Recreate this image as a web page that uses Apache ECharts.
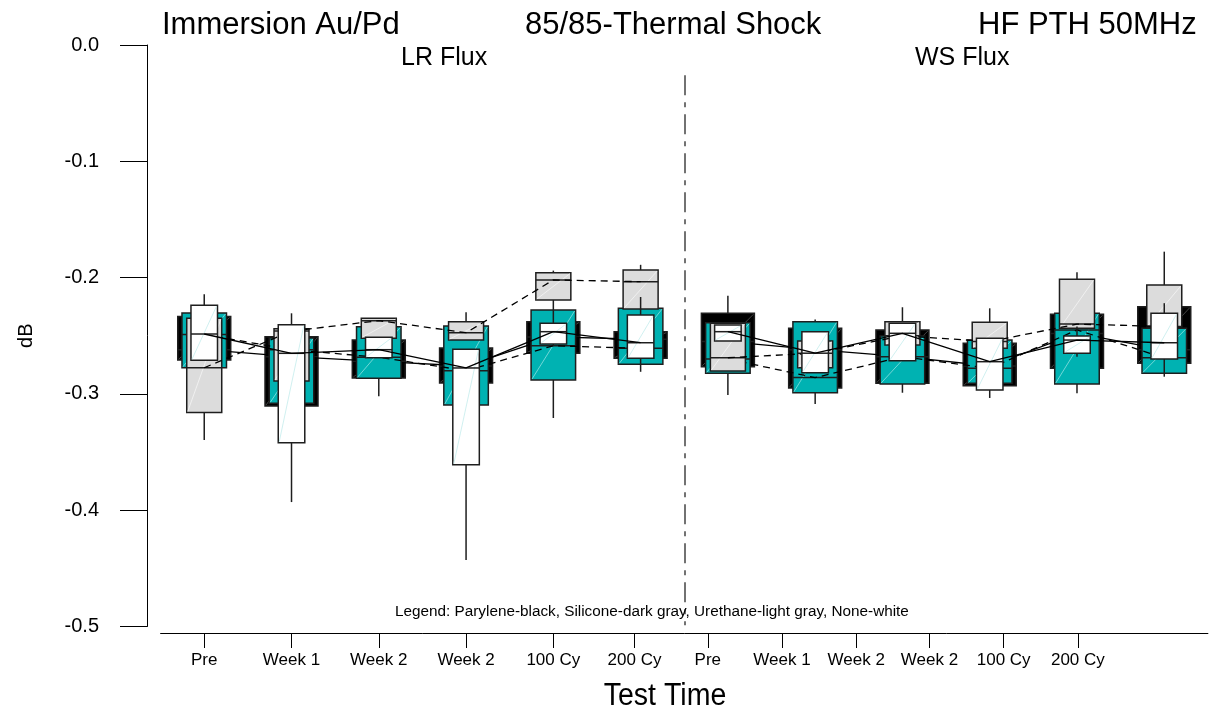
<!DOCTYPE html>
<html>
<head>
<meta charset="utf-8">
<script src="https://cdn.jsdelivr.net/npm/echarts@6/dist/echarts.min.js"></script>
<style>html,body{margin:0;padding:0;background:#fff}#c{width:1217px;height:717px}</style>
</head>
<body>
<div id="c"></div>
<script>
// ---- data ----
const categories = ['Pre','Week 1','Week 2','Week 2','100 Cy','200 Cy','Pre','Week 1','Week 2','Week 2','100 Cy','200 Cy'];
// tick label positions along the box axis (as drawn in the reference)
const tickPositions = [0, 1, 2, 3, 4, 4.93, 5.77, 6.62, 7.47, 8.31, 9.16, 10.01];

// Parylene (black)
const paryleneWhiskerLow  = [-0.2709,-0.3104,-0.3020,-0.2906,-0.2651,-0.2694,-0.3010,-0.2949,-0.2909,-0.2930,-0.2780,-0.2737];
const paryleneBoxLow      = [-0.2709,-0.3104,-0.2863,-0.2906,-0.2651,-0.2694,-0.2766,-0.2949,-0.2909,-0.2930,-0.2780,-0.2737];
const paryleneMedian      = [-0.2620,-0.2680,-0.2720,-0.2760,-0.2510,-0.2530,-0.2550,-0.2620,-0.2680,-0.2760,-0.2480,-0.2620];
const paryleneBoxHigh     = [-0.2335,-0.2508,-0.2537,-0.2605,-0.2379,-0.2465,-0.2307,-0.2436,-0.2450,-0.2565,-0.2316,-0.2250];
const paryleneWhiskerHigh = [-0.2335,-0.2508,-0.2537,-0.2605,-0.2379,-0.2465,-0.2156,-0.2436,-0.2450,-0.2565,-0.2316,-0.2250];

// Silicone (teal)
const siliconeWhiskerLow  = [-0.2775,-0.3081,-0.2866,-0.3095,-0.3207,-0.2745,-0.2823,-0.3087,-0.2990,-0.2909,-0.2995,-0.2852];
const siliconeBoxLow      = [-0.2775,-0.3081,-0.2866,-0.3095,-0.2880,-0.2745,-0.2823,-0.2990,-0.2915,-0.2909,-0.2915,-0.2823];
const siliconeMedian      = [-0.2490,-0.2620,-0.2685,-0.2800,-0.2586,-0.2608,-0.2700,-0.2860,-0.2680,-0.2780,-0.2450,-0.2690];
const siliconeBoxHigh     = [-0.2304,-0.2519,-0.2422,-0.2416,-0.2279,-0.2264,-0.2388,-0.2379,-0.2502,-0.2537,-0.2307,-0.2436];
const siliconeWhiskerHigh = [-0.2304,-0.2519,-0.2422,-0.2416,-0.2279,-0.2264,-0.2388,-0.2360,-0.2502,-0.2537,-0.2307,-0.2436];

// Urethane (light gray)
const urethaneWhiskerLow  = [-0.3396,-0.2889,-0.2522,-0.2537,-0.2279,-0.2270,-0.2803,-0.2775,-0.2580,-0.2608,-0.2436,-0.2422];
const urethaneBoxLow      = [-0.3160,-0.2889,-0.2522,-0.2537,-0.2193,-0.2270,-0.2803,-0.2775,-0.2580,-0.2608,-0.2436,-0.2422];
const urethaneMedian      = [-0.2775,-0.2460,-0.2370,-0.2474,-0.2020,-0.2035,-0.2689,-0.2650,-0.2500,-0.2550,-0.2400,-0.2420];
const urethaneBoxHigh     = [-0.2350,-0.2440,-0.2350,-0.2379,-0.1958,-0.1935,-0.2393,-0.2545,-0.2379,-0.2384,-0.2015,-0.2064];
const urethaneWhiskerHigh = [-0.2350,-0.2440,-0.2350,-0.2298,-0.1940,-0.1890,-0.2393,-0.2545,-0.2255,-0.2264,-0.1954,-0.1777];

// None (white)
const noneWhiskerLow  = [-0.2711,-0.3930,-0.2689,-0.4428,-0.2586,-0.2810,-0.2545,-0.2818,-0.2714,-0.3035,-0.2680,-0.2820];
const noneBoxLow      = [-0.2711,-0.3420,-0.2689,-0.3610,-0.2571,-0.2694,-0.2545,-0.2818,-0.2714,-0.2966,-0.2651,-0.2700];
const noneMedian      = [-0.2485,-0.2651,-0.2620,-0.2777,-0.2465,-0.2560,-0.2465,-0.2650,-0.2479,-0.2723,-0.2537,-0.2560];
const noneBoxHigh     = [-0.2238,-0.2405,-0.2513,-0.2617,-0.2393,-0.2322,-0.2408,-0.2465,-0.2393,-0.2522,-0.2502,-0.2307];
const noneWhiskerHigh = [-0.2144,-0.2307,-0.2513,-0.2617,-0.2279,-0.2167,-0.2408,-0.2465,-0.2393,-0.2522,-0.2420,-0.2220];

// group divider (between LR Flux and WS Flux)
const dividerX = 5.5, dividerTop = -0.026, dividerBottom = -0.499;

// ---- chart ----
const FONT = '"Liberation Sans", Arial, sans-serif';
const STROKE = '#1e1e1e';

function boxData(wl, bl, md, bh, wh) {
  return categories.map((c, i) => [i, wl[i], bl[i], md[i], bh[i], wh[i]]);
}
function boxRenderer(widthFrac, fill, diag) {
  return function (params, api) {
    const i = api.value(0);
    const pWL = api.coord([i, api.value(1)]);
    const pBL = api.coord([i, api.value(2)]);
    const pMD = api.coord([i, api.value(3)]);
    const pBH = api.coord([i, api.value(4)]);
    const pWH = api.coord([i, api.value(5)]);
    const w = api.size([1, 0])[0] * widthFrac;
    const cx = pMD[0], x0 = cx - w / 2, x1 = cx + w / 2;
    return {
      type: 'group',
      children: [
        { type: 'line', shape: { x1: cx, y1: pBH[1], x2: cx, y2: pWH[1] }, style: { stroke: STROKE, lineWidth: 1.5 } },
        { type: 'line', shape: { x1: cx, y1: pBL[1], x2: cx, y2: pWL[1] }, style: { stroke: STROKE, lineWidth: 1.5 } },
        { type: 'rect', shape: { x: x0, y: pBH[1], width: w, height: pBL[1] - pBH[1] }, style: { fill: fill, stroke: STROKE, lineWidth: 1.5 } },
        { type: 'line', shape: { x1: x0 + 1, y1: pBL[1] - 1, x2: x1 - 1, y2: pBH[1] + 1 }, style: { stroke: diag, lineWidth: 0.8 } },
        { type: 'line', shape: { x1: x0, y1: pMD[1], x2: x1, y2: pMD[1] }, style: { stroke: STROKE, lineWidth: 1.5 } }
      ]
    };
  };
}
function boxSeries(name, wl, bl, md, bh, wh, widthFrac, fill, diag, z) {
  return {
    name: name, type: 'custom', z: z, silent: true,
    renderItem: boxRenderer(widthFrac, fill, diag),
    encode: { x: 0, y: [1, 2, 3, 4, 5] },
    data: boxData(wl, bl, md, bh, wh)
  };
}
function medianLines(name, md, dashed, z) {
  const left = md.slice(0, 6).map((v, i) => [i, v]);
  const right = md.slice(6).map((v, k) => [k + 6, v]);
  const style = { color: '#000', width: 1.3, type: dashed ? [7, 5] : 'solid' };
  return [left, right].map(d => ({
    name: name, type: 'line', z: z, silent: true, symbol: 'none',
    lineStyle: style, data: d
  }));
}

const series = [
  boxSeries('Parylene', paryleneWhiskerLow, paryleneBoxLow, paryleneMedian, paryleneBoxHigh, paryleneWhiskerHigh, 0.607, '#000000', '#555555', 2),
  ...medianLines('Parylene', paryleneMedian, false, 3),
  boxSeries('Silicone', siliconeWhiskerLow, siliconeBoxLow, siliconeMedian, siliconeBoxHigh, siliconeWhiskerHigh, 0.51, '#00b2b2', '#8fe0e0', 4),
  ...medianLines('Silicone', siliconeMedian, true, 5),
  boxSeries('Urethane', urethaneWhiskerLow, urethaneBoxLow, urethaneMedian, urethaneBoxHigh, urethaneWhiskerHigh, 0.401, '#dcdcdc', '#f5f5f5', 6),
  ...medianLines('Urethane', urethaneMedian, true, 7),
  boxSeries('None', noneWhiskerLow, noneBoxLow, noneMedian, noneBoxHigh, noneWhiskerHigh, 0.304, '#ffffff', '#c4ecec', 8),
  ...medianLines('None', noneMedian, false, 9)
];
series[1].markLine = {
  silent: true, symbol: 'none', label: { show: false }, animation: false,
  lineStyle: { color: '#444', width: 1.5, type: [20, 7, 5, 7] },
  data: [[{ coord: [dividerX, dividerTop] }, { coord: [dividerX, dividerBottom] }]]
};

const chart = echarts.init(document.getElementById('c'), null, { renderer: 'canvas' });
chart.setOption({
  animation: false,
  backgroundColor: '#ffffff',
  textStyle: { fontFamily: FONT },
  title: [
    { text: 'Immersion Au/Pd', left: 162, top: 10, padding: 0, textStyle: { fontSize: 31, fontWeight: 'normal', color: '#000', fontFamily: FONT } },
    { text: '85/85-Thermal Shock', left: 525, top: 10, padding: 0, textStyle: { fontSize: 31, fontWeight: 'normal', color: '#000', fontFamily: FONT } },
    { text: 'HF PTH 50MHz', left: 978, top: 10, padding: 0, textStyle: { fontSize: 31, fontWeight: 'normal', color: '#000', fontFamily: FONT } },
    { text: 'LR Flux', left: 401, top: 46, padding: 0, textStyle: { fontSize: 25, fontWeight: 'normal', color: '#000', fontFamily: FONT } },
    { text: 'WS Flux', left: 915, top: 46, padding: 0, textStyle: { fontSize: 25, fontWeight: 'normal', color: '#000', fontFamily: FONT } },
    { text: 'Legend: Parylene-black, Silicone-dark gray, Urethane-light gray, None-white', left: 395, top: 604, padding: 0, textStyle: { fontSize: 15.3, fontWeight: 'normal', color: '#000', fontFamily: FONT } }
  ],
  graphic: [
    { type: 'text', x: 665, y: 696, scaleX: 0.92, silent: true,
      style: { text: 'Test Time', fontSize: 31, fill: '#000', align: 'center', verticalAlign: 'middle', fontFamily: FONT } }
  ],
  grid: { left: 160.6, right: 9.1, top: 45, bottom: 90.5, containLabel: false, outerBoundsMode: 'none' },
  xAxis: {
    type: 'value', min: -0.5, max: 11.5, offset: 6.5,
    axisLine: { show: true, onZero: false, lineStyle: { color: '#000', width: 1 } },
    axisTick: { show: true, length: 15, customValues: tickPositions, lineStyle: { color: '#000', width: 1 } },
    axisLabel: {
      show: true, customValues: tickPositions, fontSize: 17, margin: 18.5, color: '#000', fontFamily: FONT,
      formatter: function (v) { const k = tickPositions.findIndex(t => Math.abs(t - v) < 1e-6); return k >= 0 ? categories[k] : ''; }
    },
    splitLine: { show: false }
  },
  yAxis: {
    type: 'value', min: -0.5, max: 0, interval: 0.1, offset: 13.6,
    name: 'dB', nameLocation: 'middle', nameGap: 111,
    nameTextStyle: { fontSize: 20, color: '#000', fontFamily: FONT },
    axisLine: { show: true, onZero: false, lineStyle: { color: '#000', width: 1 } },
    axisTick: { show: true, length: 27, lineStyle: { color: '#000', width: 1 } },
    axisLabel: { fontSize: 20, margin: 48, color: '#000', fontFamily: FONT, formatter: v => v.toFixed(1) },
    splitLine: { show: false }
  },
  series: series
});
</script>
</body>
</html>
